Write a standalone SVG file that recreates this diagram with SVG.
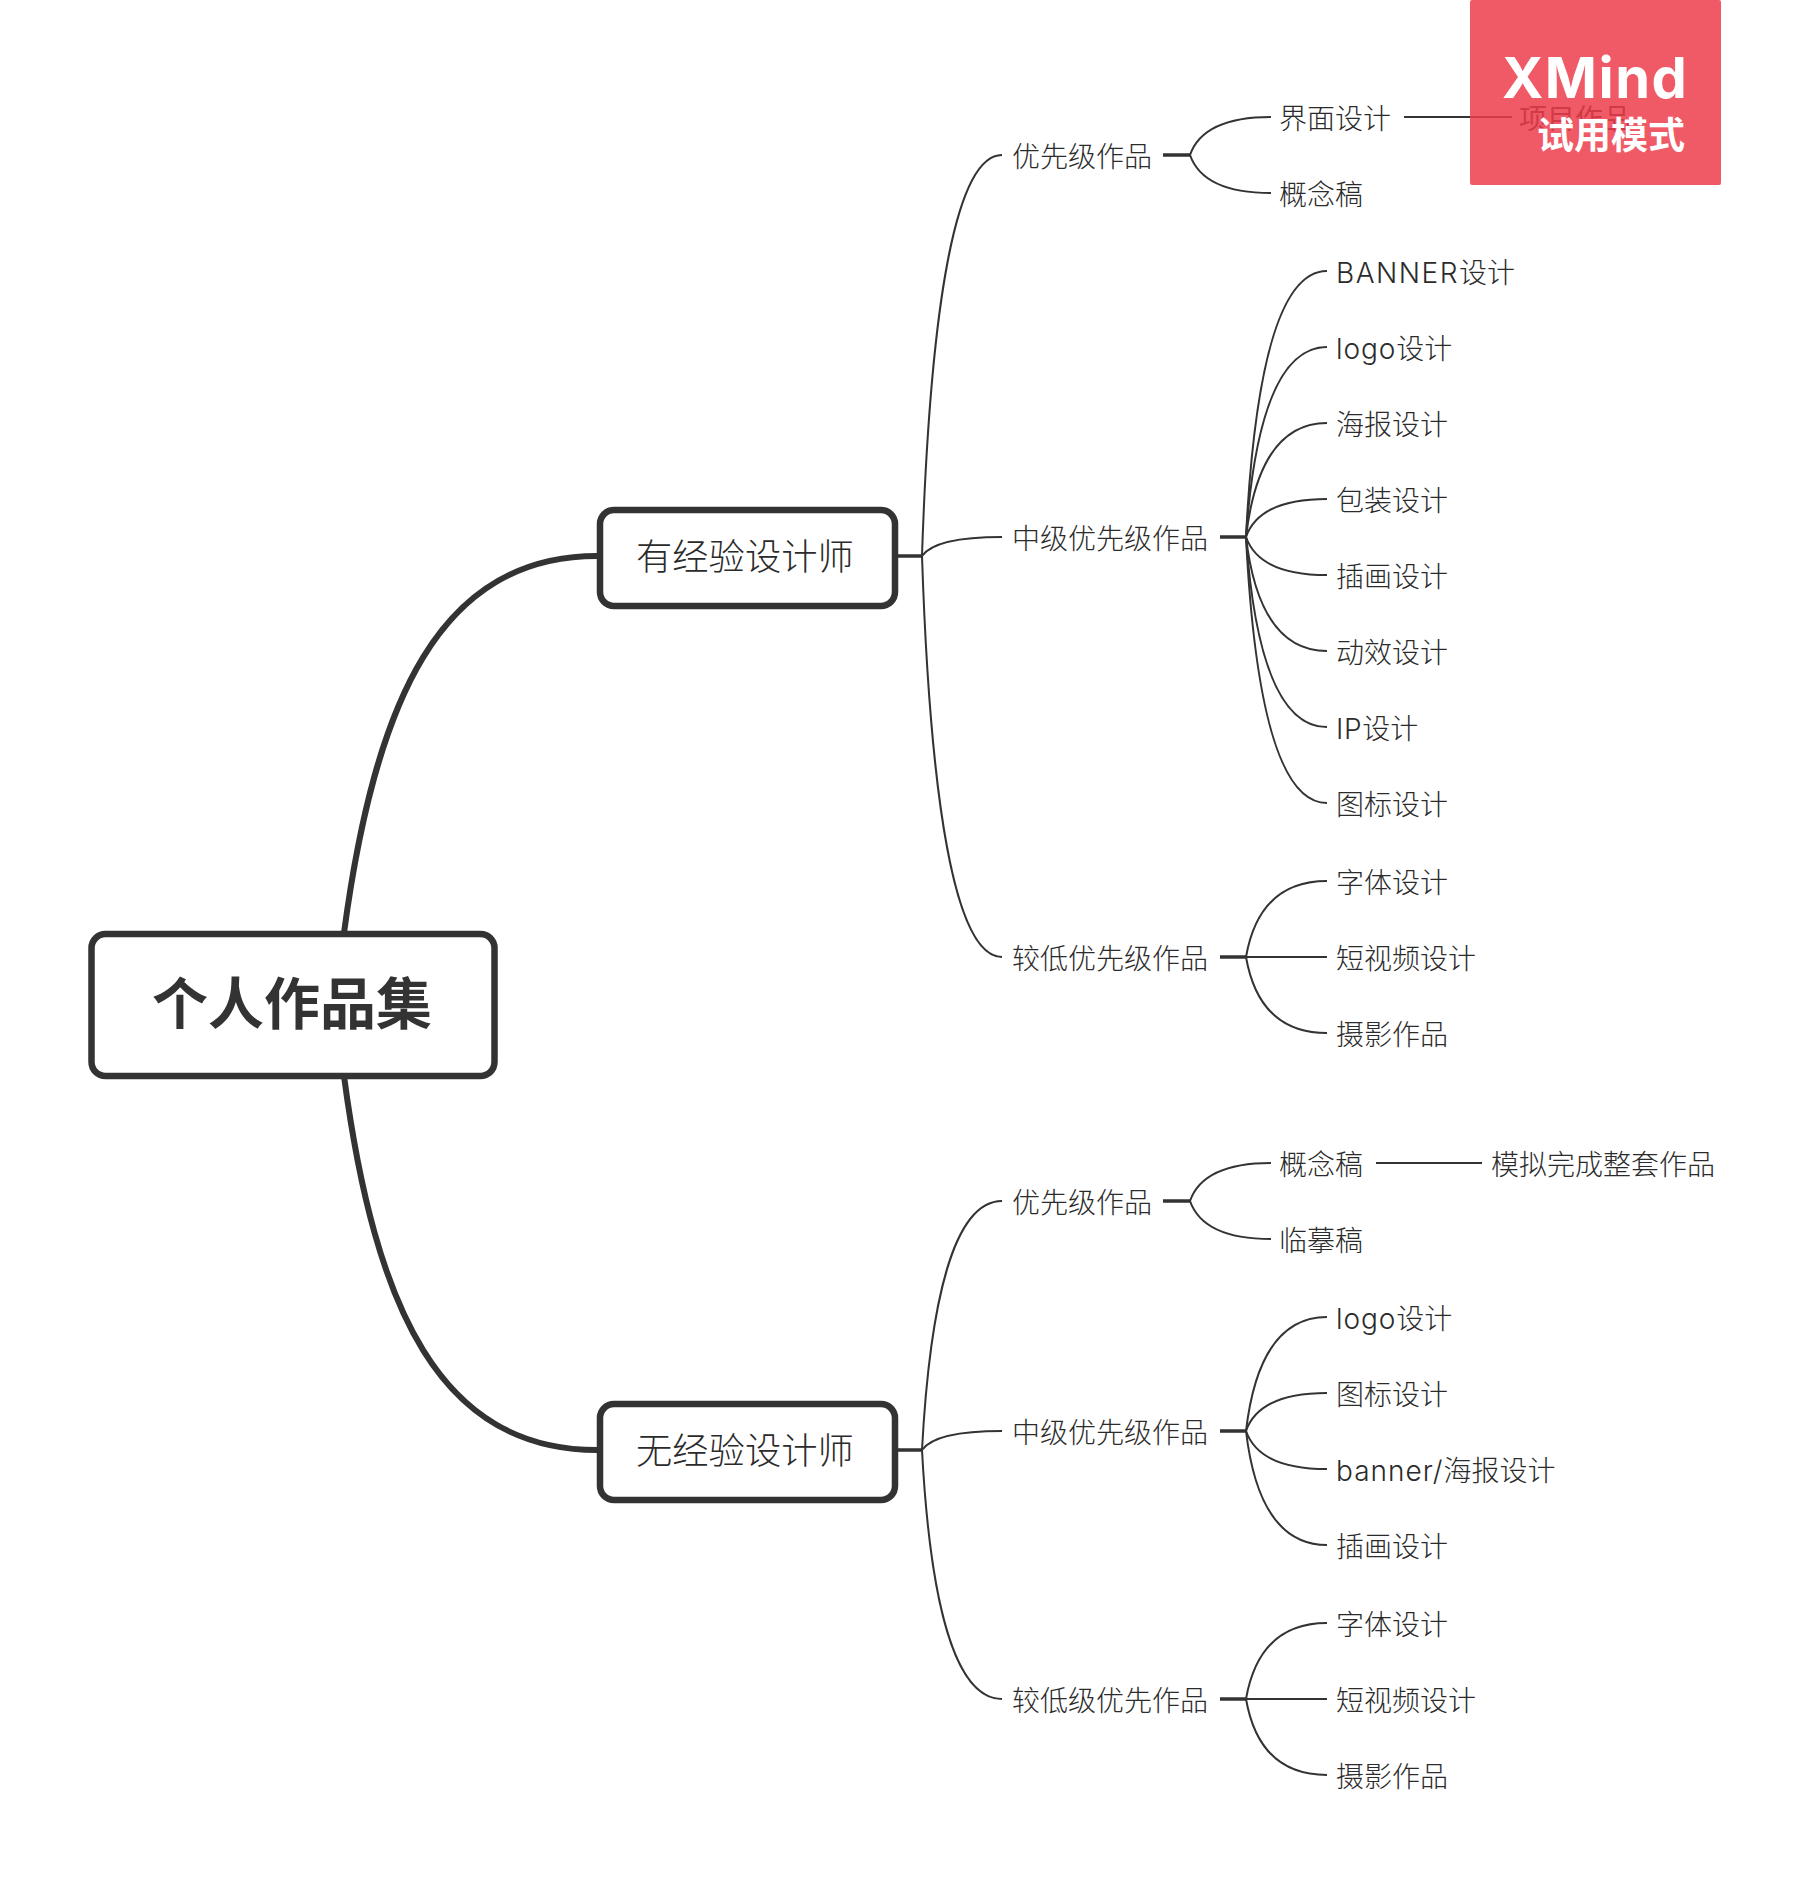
<svg xmlns="http://www.w3.org/2000/svg" width="1815" height="1893" viewBox="0 0 1815 1893">
<style>
text{font-family:Inter,"Noto Sans CJK SC","Noto Sans",sans-serif;fill:#2b2b2b;font-weight:300}
.t{font-size:28px}
.m{font-size:36.3px}
.r{font-size:56px;font-weight:700;fill:#333}
.box{fill:#fff;stroke:#333;stroke-width:6.5}
.c{fill:none;stroke:#333;stroke-width:2}
.s{fill:none;stroke:#333;stroke-width:3.5}
.b{fill:none;stroke:#333;stroke-width:6}
</style>
<rect width="1815" height="1893" fill="#fff"/>
<g id="connectors">
<path class="b" d="M344,933C375,700 440,556 597,556"/>
<path class="b" d="M344,1076C375,1309 440,1450 597,1450"/>
<path class="s" d="M898,556H922M898,1450H922"/>
<path class="c" d="M922,556C930,315.4 954,155 1002,155"/>
<path class="c" d="M922,556C930,544.6 954,537 1002,537"/>
<path class="c" d="M922,556C930,796.6 954,957 1002,957"/>
<path class="c" d="M922,1450C930,1300.6 954,1201 1002,1201"/>
<path class="c" d="M922,1450C930,1438.6 954,1431 1002,1431"/>
<path class="c" d="M922,1450C930,1599.4 954,1699 1002,1699"/>
<path class="s" d="M1163,155H1190M1163,1201H1190M1220,537H1246M1220,957H1246M1220,1431H1246M1220,1699H1246"/>
<path class="c" d="M1190,155C1198,132.2 1222,117 1271,117"/>
<path class="c" d="M1190,155C1198,177.8 1222,193 1271,193"/>
<path class="c" d="M1404,117H1512"/>
<path class="c" d="M1246,537C1254,377.4 1278,271 1327,271"/>
<path class="c" d="M1246,537C1254,423 1278,347 1327,347"/>
<path class="c" d="M1246,537C1254,468.6 1278,423 1327,423"/>
<path class="c" d="M1246,537C1254,514.2 1278,499 1327,499"/>
<path class="c" d="M1246,537C1254,559.8 1278,575 1327,575"/>
<path class="c" d="M1246,537C1254,605.4 1278,651 1327,651"/>
<path class="c" d="M1246,537C1254,651 1278,727 1327,727"/>
<path class="c" d="M1246,537C1254,696.6 1278,803 1327,803"/>
<path class="c" d="M1246,957C1254,911.4 1278,881 1327,881"/>
<path class="c" d="M1246,957H1327"/>
<path class="c" d="M1246,957C1254,1002.6 1278,1033 1327,1033"/>
<path class="c" d="M1190,1201C1198,1178.2 1222,1163 1271,1163"/>
<path class="c" d="M1190,1201C1198,1223.8 1222,1239 1271,1239"/>
<path class="c" d="M1376,1163H1482"/>
<path class="c" d="M1246,1431C1254,1362.6 1278,1317 1327,1317"/>
<path class="c" d="M1246,1431C1254,1408.2 1278,1393 1327,1393"/>
<path class="c" d="M1246,1431C1254,1453.8 1278,1469 1327,1469"/>
<path class="c" d="M1246,1431C1254,1499.4 1278,1545 1327,1545"/>
<path class="c" d="M1246,1699C1254,1653.4 1278,1623 1327,1623"/>
<path class="c" d="M1246,1699H1327"/>
<path class="c" d="M1246,1699C1254,1744.6 1278,1775 1327,1775"/>
</g>
<g id="root"><rect class="box" x="91.5" y="934" width="403" height="142" rx="14"/><text class="r" x="152" y="1024">个人作品集</text></g>
<g id="exp"><rect class="box" x="600" y="510" width="295" height="96" rx="14"/><text class="m" x="636" y="570">有经验设计师</text></g>
<g id="noexp"><rect class="box" x="600" y="1404" width="295" height="96" rx="14"/><text class="m" x="636" y="1464">无经验设计师</text></g>
<g id="e1"><text class="t" x="1012" y="167">优先级作品</text></g>
<g id="e2"><text class="t" x="1012" y="549">中级优先级作品</text></g>
<g id="e3"><text class="t" x="1012" y="969">较低优先级作品</text></g>
<g id="e11"><text class="t" x="1279" y="129">界面设计</text></g>
<g id="e111"><text class="t" x="1519" y="129" style="font-weight:400">项目作品</text></g>
<g id="e12"><text class="t" x="1279" y="205">概念稿</text></g>
<g id="e21"><text class="t" x="1336" y="283"><tspan letter-spacing="1.5">BANNER</tspan>设计</text></g>
<g id="e22"><text class="t" x="1336" y="359"><tspan letter-spacing="0.9">logo</tspan>设计</text></g>
<g id="e23"><text class="t" x="1336" y="435">海报设计</text></g>
<g id="e24"><text class="t" x="1336" y="511">包装设计</text></g>
<g id="e25"><text class="t" x="1336" y="587">插画设计</text></g>
<g id="e26"><text class="t" x="1336" y="663">动效设计</text></g>
<g id="e27"><text class="t" x="1336" y="739"><tspan letter-spacing="0.6">IP</tspan>设计</text></g>
<g id="e28"><text class="t" x="1336" y="815">图标设计</text></g>
<g id="e31"><text class="t" x="1336" y="893">字体设计</text></g>
<g id="e32"><text class="t" x="1336" y="969">短视频设计</text></g>
<g id="e33"><text class="t" x="1336" y="1045">摄影作品</text></g>
<g id="n1"><text class="t" x="1012" y="1213">优先级作品</text></g>
<g id="n2"><text class="t" x="1012" y="1443">中级优先级作品</text></g>
<g id="n3"><text class="t" x="1012" y="1711">较低级优先作品</text></g>
<g id="n11"><text class="t" x="1279" y="1175">概念稿</text></g>
<g id="n111"><text class="t" x="1491" y="1175">模拟完成整套作品</text></g>
<g id="n12"><text class="t" x="1279" y="1251">临摹稿</text></g>
<g id="n21"><text class="t" x="1336" y="1329"><tspan letter-spacing="0.9">logo</tspan>设计</text></g>
<g id="n22"><text class="t" x="1336" y="1405">图标设计</text></g>
<g id="n23"><text class="t" x="1336" y="1481"><tspan letter-spacing="1">banner/</tspan>海报设计</text></g>
<g id="n24"><text class="t" x="1336" y="1557">插画设计</text></g>
<g id="n31"><text class="t" x="1336" y="1635">字体设计</text></g>
<g id="n32"><text class="t" x="1336" y="1711">短视频设计</text></g>
<g id="n33"><text class="t" x="1336" y="1787">摄影作品</text></g>
<g id="watermark">
<rect x="1470" y="0" width="251" height="185" rx="2" fill="#ed3d4b" fill-opacity=".85"/>
<text x="1502" y="98" style="fill:#fff;font-size:56px;font-weight:700;letter-spacing:1.5px">XMind</text>
<text x="1537" y="149" style="fill:#fff;font-size:37px;font-weight:700">试用模式</text>
</g>
</svg>
